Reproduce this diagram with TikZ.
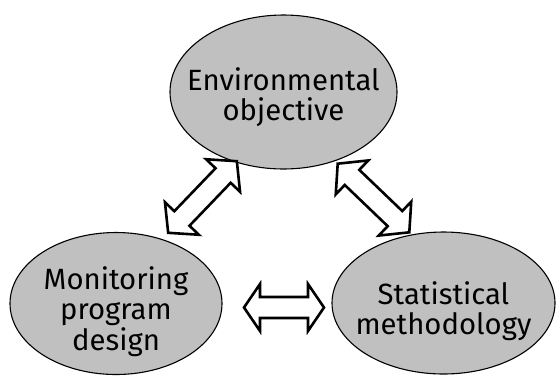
\documentclass[tikz,border=0pt]{standalone}
\usepackage{fontspec}
\setmainfont{Fira Sans}
\usetikzlibrary{shapes.geometric,calc}
\definecolor{blobfill}{RGB}{192,192,192}
\tikzset{
  blob/.style={ellipse, draw=black, line width=1.1pt, fill=blobfill, inner sep=0pt},
  txt/.style={align=center, font=\fontsize{29.3}{30.5}\selectfont, inner sep=0pt},
  arrowline/.style={draw=black, line width=2.6pt, fill=white, line join=miter, miter limit=10},
  pics/dblarrow/.style={code={
    \draw[arrowline] (-40,0) -- (-24,23.5) -- (-24,10.5) -- (24,10.5) -- (24,23.5)
      -- (40,0) -- (24,-23.5) -- (24,-10.5) -- (-24,-10.5) -- (-24,-23.5) -- cycle;
  }}
}
\begin{document}
\begin{tikzpicture}[x=1pt,y=-1pt]
\useasboundingbox (0,0) rectangle (556,376);
\node[blob, minimum width=227pt, minimum height=154pt] (env) at (283.5,92) {};
\node[blob, minimum width=212pt, minimum height=142pt] (mon) at (116,303.5) {};
\node[blob, minimum width=223pt, minimum height=142pt] (stat) at (443.5,303) {};
\node[txt] (envt) at ($(env)+(0,5)$) {Environmental\\objective};
\node[txt] (mont) at ($(mon)+(0,8)$) {Monitoring\\program\\design};
\node[txt] (statt) at ($(stat)+(0,8)$) {Statistical\\methodology};
\pic (a1) at (202.5,197) [rotate=46.2, xscale=1.24] {dblarrow};
\pic (a2) at (373.5,198) [rotate=-43.8, xscale=1.24] {dblarrow};
\pic (a3) at (284,307.5) {dblarrow};
\end{tikzpicture}
\end{document}
